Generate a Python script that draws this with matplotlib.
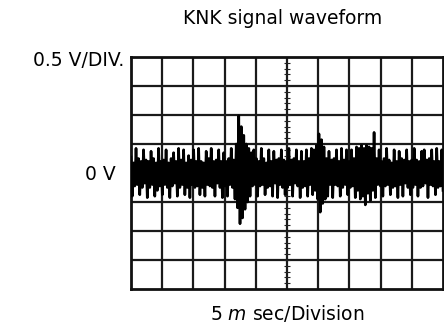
import numpy as np
import matplotlib
matplotlib.use('Agg')
import matplotlib.pyplot as plt

# scope trace, in divisions (0.5 V/div)
knk_signal = [
    0.55, -0.8, 0.35, -0.45, 0.85, -0.4, 0.5, -0.75, 0.4, -0.5, 0.8, -0.35, 0.45, -0.85, 0.4, -0.5, 0.75, -0.4, 0.5, -0.8, 0.35, -0.6, 0.85, -0.45, 0.4,
    -0.75, 0.45, -0.4, 0.8, -0.5, 0.35, -0.85, 0.5, -0.45, 0.7, -0.35, 0.4, -0.8, 0.85, -0.5, 0.45, -0.4, 0.8, -0.75, 0.35, -0.5, 0.6, -0.85, 0.45, -0.4,
    0.8, -0.5, 0.4, -0.45, 0.85, -0.75, 0.4, -0.5, 0.35, -0.8, 0.75, -0.4, 0.5, -0.45, 0.85, -0.5, 0.4, -0.8, 0.45, -0.35, 0.8, -0.5, 0.4, -0.85, 0.7,
    -0.45, 0.4, -0.8, 0.5, -0.4, 0.85, -0.5, 0.45, -0.9, 1.0, -1.2, 1.97, -1.75, 1.6, -1.55, 1.3, -1.25, 1.0, -1.0, 0.85, -0.8, 0.7, -0.45, 0.8, -0.4,
    0.5, -0.8, 0.4, -0.45, 0.85, -0.4, 0.5, -0.75, 0.35, -0.5, 0.8, -0.45, 0.4, -0.8, 0.75, -0.35, 0.45, -0.85, 0.5, -0.4, 0.8, -0.5, 0.45, -0.75, 0.4,
    -0.5, 0.85, -0.4, 0.45, -0.8, 0.5, -0.35, 0.8, -0.45, 0.4, -0.85, 0.75, -0.5, 0.4, -0.45, 0.8, -0.8, 0.5, -0.4, 0.85, -0.75, 0.8, -0.6, 0.95, -0.9,
    1.35, -1.35, 1.15, -1.05, 0.9, -0.9, 0.5, -0.8, 0.75, -0.4, 0.45, -0.85, 0.5, -0.4, 0.8, -0.45, 0.4, -0.8, 0.85, -0.5, 0.45, -0.4, 0.8, -0.75, 0.4,
    -0.5, 0.8, -0.45, 0.5, -0.85, 0.9, -0.6, 0.85, -0.9, 0.95, -0.8, 0.85, -1.1, 0.95, -0.7, 0.9, -0.95, 0.85, -0.6, 1.4, -0.85, 0.5, -0.4, 0.8, -0.45,
    0.4, -0.8, 0.5, -0.45, 0.85, -0.4, 0.45, -0.75, 0.35, -0.5, 0.8, -0.45, 0.4, -0.85, 0.75, -0.4, 0.5, -0.8, 0.45, -0.35, 0.8, -0.5, 0.4, -0.75, 0.45,
    -0.5, 0.85, -0.4, 0.45, -0.8, 0.4, -0.5, 0.75, -0.45, 0.8, -0.35, 0.45, -0.85, 0.5, -0.4, 0.8, -0.45, 0.4, -0.75, 0.85, -0.5, 0.4, -0.45, 0.8, -0.6,
]
n_xdiv = 10
n_ydiv = 8

t = np.linspace(0, n_xdiv, len(knk_signal))

fig = plt.figure(figsize=(4.44, 3.28), dpi=100)
ax = fig.add_axes([131/444, 1-289/328, 312/444, 232/328])
ax.set_xlim(0, n_xdiv)
ax.set_ylim(-n_ydiv/2, n_ydiv/2)

# graticule
for gx in range(1, n_xdiv):
    ax.axvline(gx, color='#1a1a1a', lw=1.6, zorder=1)
for gy in range(-n_ydiv//2 + 1, n_ydiv//2):
    ax.axhline(gy, color='#1a1a1a', lw=1.6, zorder=1)
# small ticks on the centre lines
sub = np.arange(0.2, n_xdiv, 0.2)
ax.plot(sub, np.zeros_like(sub), ls='none', marker='|', ms=4, mew=0.8, color='#222222', zorder=1)
sub = np.arange(-n_ydiv/2 + 0.2, n_ydiv/2, 0.2)
ax.plot(np.full_like(sub, n_xdiv/2), sub, ls='none', marker='_', ms=4, mew=0.8, color='#222222', zorder=1)

ax.plot(t, knk_signal, color='black', lw=1.9, zorder=3)

for s in ax.spines.values():
    s.set_linewidth(2.0)
    s.set_color('#111111')
ax.set_xticks([])
ax.set_yticks([])

fig.text(283/444, 1-18/328, 'KNK signal waveform', ha='center', va='center', fontsize=13.5)
fig.text(124/444, 1-60/328, '0.5 V/DIV.', ha='right', va='center', fontsize=13.5)
fig.text(116/444, 1-175/328, '0 V', ha='right', va='center', fontsize=13.5)
fig.text(287/444, 1-314/328, '5 $m$ sec/Division', ha='center', va='center', fontsize=13.5)

fig.savefig('out.png', dpi=100)
